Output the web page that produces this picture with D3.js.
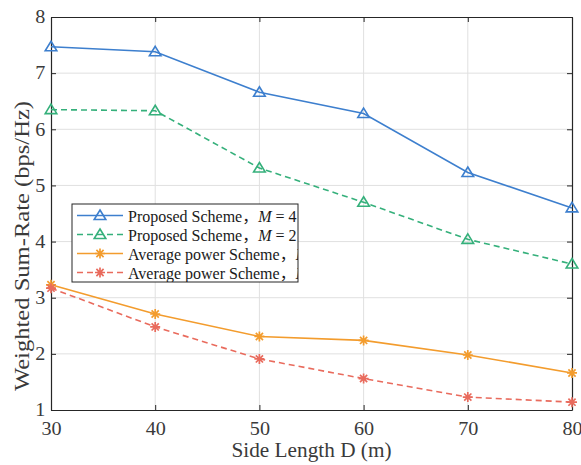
<!DOCTYPE html>
<html>
<head>
<meta charset="utf-8">
<script src="https://cdn.jsdelivr.net/npm/d3@7"></script>
<style>
  body { margin: 0; background: #fff; }
  svg { display: block; font-family: "Liberation Serif", "Times New Roman", serif; }
</style>
</head>
<body>
<svg id="chart" width="581" height="465"></svg>
<script>
const sideLength = [30, 40, 50, 60, 70, 80];
const proposedM4 = [7.47, 7.38, 6.66, 6.28, 5.23, 4.60];
const proposedM2 = [6.35, 6.33, 5.31, 4.70, 4.04, 3.60];
const averageM4 = [3.23, 2.71, 2.31, 2.24, 1.98, 1.66];
const averageM2 = [3.17, 2.48, 1.91, 1.56, 1.23, 1.14];
const xTicks = [30, 40, 50, 60, 70, 80];
const yTicks = [1, 2, 3, 4, 5, 6, 7, 8];

const series = [
  { name: "Proposed Scheme", m: 4, values: proposedM4, color: "#3d7fce", dash: null, marker: "tri" },
  { name: "Proposed Scheme", m: 2, values: proposedM2, color: "#35b07b", dash: "6,4", marker: "tri" },
  { name: "Average power Scheme", m: 4, values: averageM4, color: "#f39c2d", dash: null, marker: "star" },
  { name: "Average power Scheme", m: 2, values: averageM2, color: "#e96b5d", dash: "6,4", marker: "star" }
];

// tick digits in the picture come out a bit wide
const sx = 1.12;

const svg = d3.select("#chart");
const margin = { top: 17, right: 9, bottom: 55, left: 51 };
const width = 581 - margin.left - margin.right;
const height = 465 - margin.top - margin.bottom;

const x = d3.scaleLinear().domain([30, 80]).range([0, width]);
const y = d3.scaleLinear().domain([1, 8]).range([height, 0]);

const g = svg.append("g").attr("transform", `translate(${margin.left},${margin.top})`);

// grid
g.append("g").selectAll("line").data(xTicks.slice(1, -1)).enter().append("line")
  .attr("x1", d => x(d)).attr("x2", d => x(d)).attr("y1", 0).attr("y2", height)
  .attr("stroke", "#e0e0e0").attr("stroke-width", 1);
g.append("g").selectAll("line").data(yTicks.slice(1, -1)).enter().append("line")
  .attr("y1", d => y(d)).attr("y2", d => y(d)).attr("x1", 0).attr("x2", width)
  .attr("stroke", "#e0e0e0").attr("stroke-width", 1);

// axes
const axisColor = "#262626";
g.append("g").attr("class", "axis-x").attr("transform", `translate(0,${height})`)
  .call(d3.axisBottom(x).tickValues(xTicks).tickSizeInner(-5).tickSizeOuter(0).tickPadding(12).tickFormat(d3.format("d")));
g.append("g").attr("class", "axis-y")
  .call(d3.axisLeft(y).tickValues(yTicks).tickSizeInner(-5).tickSizeOuter(0).tickPadding(5).tickFormat(d3.format("d")));
g.append("g")
  .call(d3.axisTop(x).tickValues(xTicks).tickSizeInner(-5).tickSizeOuter(0).tickFormat(""));
g.append("g").attr("transform", `translate(${width},0)`)
  .call(d3.axisRight(y).tickValues(yTicks).tickSizeInner(-5).tickSizeOuter(0).tickFormat(""));

g.selectAll(".domain").attr("stroke", axisColor).attr("stroke-width", 1.2);
g.selectAll(".tick line").attr("stroke", axisColor);
g.selectAll(".tick text").attr("fill", "#3a3a3a").style("font-size", "18px")
  .style("font-family", "'Liberation Serif', serif")
  .attr("transform", `scale(${sx},1)`);

// lines
const line = d3.line().x((d, i) => x(sideLength[i])).y(d => y(d));

function drawMarker(sel, type, color) {
  if (type === "tri") {
    sel.append("path").attr("d", "M0,-5.5L5.8,4L-5.8,4Z")
      .attr("fill", "none").attr("stroke", color).attr("stroke-width", 1.6);
  } else {
    const r = 5;
    const k = r * 0.72;
    const d = `M${-r},0L${r},0M0,${-r}L0,${r}M${-k},${-k}L${k},${k}M${-k},${k}L${k},${-k}`;
    sel.append("path").attr("d", d).attr("stroke", color).attr("stroke-width", 1.7).attr("fill", "none");
  }
}

series.forEach(s => {
  g.append("path").datum(s.values).attr("d", line)
    .attr("fill", "none").attr("stroke", s.color).attr("stroke-width", 1.6)
    .attr("stroke-dasharray", s.dash);
  const mk = g.append("g").selectAll("g").data(s.values).enter().append("g")
    .attr("transform", (d, i) => `translate(${x(sideLength[i])},${y(d)})`);
  mk.each(function () { drawMarker(d3.select(this), s.marker, s.color); });
});

// legend (text runs past the box on the lower rows, clipped like the original)
const lg = svg.append("g").attr("transform", "translate(72,204)");
svg.append("defs").append("clipPath").attr("id", "legend-clip")
  .append("rect").attr("width", 226).attr("height", 78);
lg.append("rect").attr("width", 226).attr("height", 78)
  .attr("fill", "#fff").attr("stroke", "#262626").attr("stroke-width", 1);
const rows = lg.append("g").attr("clip-path", "url(#legend-clip)");
series.forEach((s, i) => {
  const row = rows.append("g").attr("transform", `translate(0,${11.5 + i * 19})`);
  row.append("line").attr("x1", 5).attr("x2", 51).attr("y1", 0).attr("y2", 0)
    .attr("stroke", s.color).attr("stroke-width", 1.6).attr("stroke-dasharray", s.dash);
  drawMarker(row.append("g").attr("transform", "translate(28,0)"), s.marker, s.color);
  const t = row.append("text").attr("x", 56).attr("y", 6)
    .style("font-size", "16px").attr("fill", "#1a1a1a");
  t.append("tspan").text(s.name);
  t.append("tspan").style("font-family", "'Noto Sans CJK SC'").text("，");
  t.append("tspan").style("font-style", "italic").text("M");
  t.append("tspan").text(" = " + s.m);
});

// axis labels
svg.append("text").attr("x", margin.left + width / 2).attr("y", 457)
  .attr("text-anchor", "middle").style("font-size", "20px").attr("fill", "#3a3a3a")
  .attr("textLength", 160).attr("lengthAdjust", "spacingAndGlyphs")
  .text("Side Length D (m)");
svg.append("text")
  .attr("transform", "translate(29,246) rotate(-90)")
  .attr("text-anchor", "middle").style("font-size", "21px").attr("fill", "#3a3a3a")
  .attr("textLength", 290).attr("lengthAdjust", "spacingAndGlyphs")
  .text("Weighted Sum-Rate (bps/Hz)");
</script>
</body>
</html>
